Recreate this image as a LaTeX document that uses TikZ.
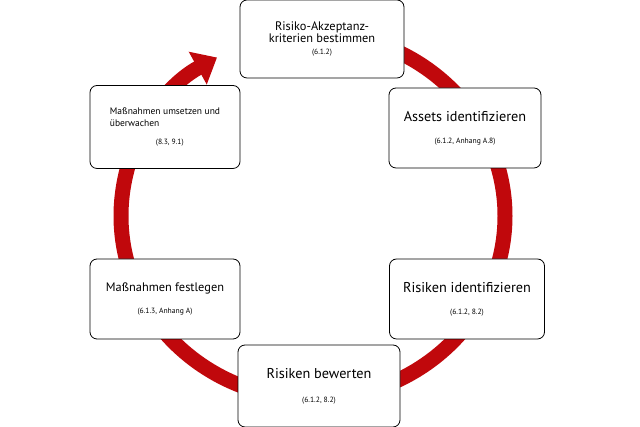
\documentclass[tikz,border=0pt]{standalone}
\usepackage{fontspec}
\setmainfont{PT Sans}[Scale=0.95]
\usetikzlibrary{arrows.meta}
\definecolor{ringred}{RGB}{192,8,12}
\begin{document}
\begin{tikzpicture}[x=1pt,y=1pt]
        \useasboundingbox (0,0) rectangle (640,427);
        \tikzset{
          stepbox/.style={draw=black, fill=white, rounded corners=7pt, line width=0.8pt,
            minimum width=152pt, minimum height=80pt, align=center, inner sep=2pt}
        }

        % ring with arrow
        \draw[ringred, line width=15pt, -{Triangle[width=36pt,length=22pt]}]
            (313,211) ++(90:192 and 183) arc[start angle=90, end angle=-240, x radius=192, y radius=183];

        \node[stepbox, minimum width=164pt, minimum height=78pt] (accept) at (322,388)
            {{\fontsize{13}{14}\selectfont Risiko-Akzeptanz-}\\{\fontsize{13}{14}\selectfont kriterien bestimmen}\\{\fontsize{8}{10}\selectfont (6.1.2)}};
        \node[stepbox] (assets) at (465,299)
            {{\fontsize{15}{17}\selectfont Assets identifizieren}\\[10pt]{\fontsize{8}{10}\selectfont (6.1.2, Anhang A.8)}};
        \node[stepbox, minimum width=155pt] (risks) at (467,128)
            {{\fontsize{15}{17}\selectfont Risiken identifizieren}\\[10pt]{\fontsize{8}{10}\selectfont (6.1.2, 8.2)}};
        \node[stepbox, minimum width=162pt, minimum height=82pt] (assess) at (319,41)
            {{\fontsize{15}{17}\selectfont Risiken bewerten}\\[12pt]{\fontsize{8}{10}\selectfont (6.1.2, 8.2)}};
        \node[stepbox, minimum width=150pt] (define) at (165,128)
            {{\fontsize{13}{15}\selectfont Maßnahmen festlegen}\\[10pt]{\fontsize{8}{10}\selectfont (6.1.3, Anhang A)}};
        \node[stepbox, minimum width=150pt, minimum height=83pt, align=left] (monitor) at (165,300)
            {{\fontsize{10}{12}\selectfont Maßnahmen umsetzen und}\\{\fontsize{10}{12}\selectfont überwachen}\\[6pt]\hspace*{46pt}{\fontsize{8}{10}\selectfont (8.3, 9.1)}};
    \end{tikzpicture}
\end{document}
